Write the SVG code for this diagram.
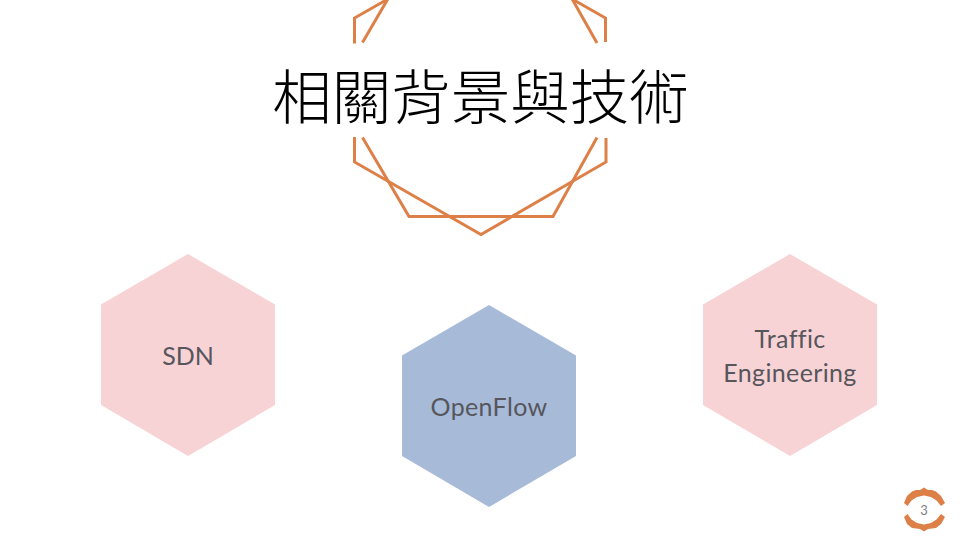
<svg xmlns="http://www.w3.org/2000/svg" width="960" height="540" viewBox="0 0 960 540">
<style>
.deco{fill:none;stroke:#dd8047;stroke-width:3}
.badge{fill:#dd8047}
.hex-pink{fill:#f8d3d6}
.hex-blue{fill:#a7bbd9}
.lbl{font-family:"Lato","Liberation Sans",sans-serif;font-size:25px;fill:#56565c;text-anchor:middle;font-variant-ligatures:none}
.wide{letter-spacing:.35px}
.title{font-family:"Noto Sans CJK TC","Noto Sans CJK SC",sans-serif;font-size:59.500px;font-weight:300;fill:#000;text-anchor:middle}
</style>
<rect width="960" height="540" fill="#fff"/>
<g id="decoration">
<path class="deco" d="M354.500 43.500V18L388 -1"/>
<path class="deco" d="M362.500 42.500L389 -3"/>
<path class="deco" d="M605.500 42V18L572 -1"/>
<path class="deco" d="M597 43L571 -3"/>
<path class="deco" d="M354.500 137V162L481 234.500L606 162V138"/>
<path class="deco" d="M362.500 137.500L409 216.500H553L597 137.500"/>
</g>
<text id="title" class="title" x="480.500" y="119">相關背景與技術</text>
<g id="node-sdn">
<polygon class="hex-pink" points="188,254 275,304.500 275,405 188,456 101,405 101,304.500"/>
<text class="lbl" x="188" y="365">SDN</text>
</g>
<g id="node-openflow">
<polygon class="hex-blue" points="489,305 576,355.500 576,456 489,507 402,456 402,355.500"/>
<text class="lbl wide" x="489" y="416">OpenFlow</text>
</g>
<g id="node-te">
<polygon class="hex-pink" points="790,254 877,304.500 877,405 790,456 703,405 703,304.500"/>
<text class="lbl wide" x="790" y="348">Traffic</text>
<text class="lbl wide" x="790" y="382">Engineering</text>
</g>
<g id="page-number">
<polygon class="badge" points="904,503 907,496 912,491.500 916,490 920,490 924,487.500 928,490 932,490 936,491.500 941,496 945,503 941,506 936.500,500.500 931,497 924,495.500 917,497 911.500,500.500 907.500,506"/>
<polygon class="badge" points="904,517 907,524 912,528 916,528.500 920,529 924,531.500 928,529 932,528.500 936,528 941,524 945,517 941,514 936.500,519.500 931,523 924,524.500 917,523 911.500,519.500 907.500,514"/>
<text x="924" y="514.500" font-family="'Lato','Liberation Sans',sans-serif" font-size="13" fill="#7f7f7f" text-anchor="middle">3</text>
</g>
</svg>
